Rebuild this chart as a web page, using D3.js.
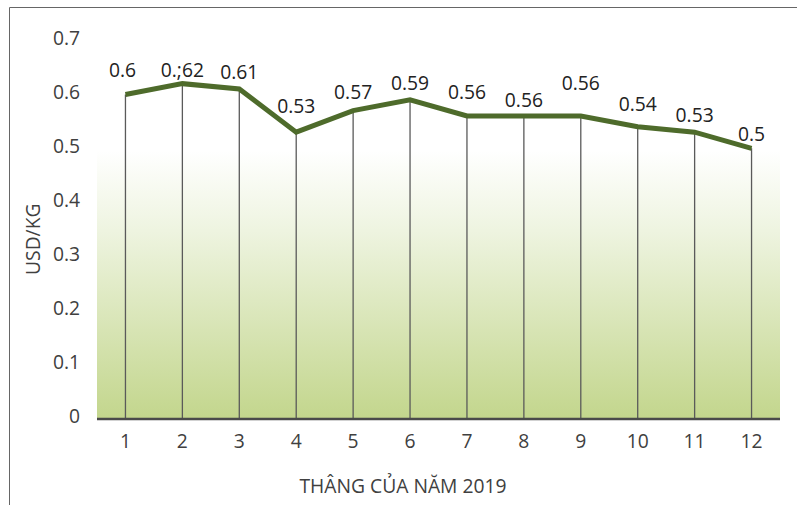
<!DOCTYPE html>
<html>
<head>
<meta charset="utf-8">
<script src="https://cdn.jsdelivr.net/npm/d3@7/dist/d3.min.js"></script>
<style>
  html, body { margin: 0; padding: 0; background: #fff; }
  svg { display: block; font-family: "Open Sans", sans-serif; }
</style>
</head>
<body>
<svg id="chart" width="797" height="505"></svg>
<script>
// ---- data ----
const months = ["1", "2", "3", "4", "5", "6", "7", "8", "9", "10", "11", "12"];
const prices = [0.60, 0.62, 0.61, 0.53, 0.57, 0.59, 0.56, 0.56, 0.56, 0.54, 0.53, 0.50];
const priceLabels = ["0.6", "0.;62", "0.61", "0.53", "0.57", "0.59", "0.56", "0.56", "0.56", "0.54", "0.53", "0.5"];
const yTicks = [0, 0.1, 0.2, 0.3, 0.4, 0.5, 0.6, 0.7];
const yTitle = "USD/KG";
const xTitle = "THÂNG CỦA NĂM 2019";

// ---- layout ----
const W = 797, H = 505;
const plot = { left: 97, right: 780, top: 40.5, bottom: 418 };
// vertical nudges of the data labels (label text centre above the point)
const labelLift = [24, 13, 17, 26, 18, 17, 24, 16, 33, 23, 17, 14];
const labelShift = [-3, 0, 0, 0, 0, 0, 0, 0, 0, 0, 0, 0];
const FS = 19.3;

const svg = d3.select("#chart");

const x = d3.scaleBand().domain(months).range([plot.left, plot.right]).padding(0);
const y = d3.scaleLinear().domain([0, 0.7]).range([plot.bottom, plot.top]);

// frame (outer chart border, partially visible)
svg.append("path")
  .attr("d", `M9.5,${H} L9.5,7.5 L${W},7.5`)
  .attr("fill", "none").attr("stroke", "#666").attr("stroke-width", 1);

// gradient background
const defs = svg.append("defs");
const grad = defs.append("linearGradient").attr("id", "bg")
  .attr("x1", 0).attr("y1", 0).attr("x2", 0).attr("y2", 1);
grad.append("stop").attr("offset", "0%").attr("stop-color", "#ffffff");
grad.append("stop").attr("offset", "30%").attr("stop-color", "#eef4e0");
grad.append("stop").attr("offset", "100%").attr("stop-color", "#c3d68d");

const gTop = y(0.5) + 2;
svg.append("rect")
  .attr("x", plot.left).attr("y", gTop)
  .attr("width", plot.right - plot.left).attr("height", plot.bottom - gTop)
  .attr("fill", "url(#bg)");

// y axis labels
const yAxis = d3.axisLeft(y).tickValues(yTicks).tickSize(0).tickPadding(0)
  .tickFormat(d => d === 0 ? "0" : d3.format(".1f")(d));
const gy = svg.append("g").attr("transform", `translate(80,-2)`).call(yAxis);
gy.select(".domain").remove();
gy.selectAll("text").attr("font-size", FS).attr("fill", "#404040")
  .attr("font-family", "'Open Sans', sans-serif");

// drop lines
const cx = d => x(d) + x.bandwidth() / 2;
svg.append("g").selectAll("line").data(months).join("line")
  .attr("x1", d => cx(d)).attr("x2", d => cx(d))
  .attr("y1", (d, i) => y(prices[i])).attr("y2", plot.bottom)
  .attr("stroke", "#5a5a5a").attr("stroke-width", 1.3);

// x axis
const xAxis = d3.axisBottom(x).tickSize(0).tickPadding(16);
const gx = svg.append("g").attr("transform", `translate(0,${plot.bottom})`).call(xAxis);
gx.select(".domain").remove();
gx.selectAll("text").attr("font-size", FS).attr("fill", "#404040")
  .attr("font-family", "'Open Sans', sans-serif");
svg.append("line")
  .attr("x1", plot.left).attr("x2", plot.right)
  .attr("y1", plot.bottom + 1).attr("y2", plot.bottom + 1)
  .attr("stroke", "#4a4a4a").attr("stroke-width", 2.5);

// line
const line = d3.line().x((d, i) => cx(months[i])).y(d => y(d));
svg.append("path").datum(prices)
  .attr("d", line)
  .attr("fill", "none").attr("stroke", "#4e6b2b").attr("stroke-width", 5)
  .attr("stroke-linejoin", "miter");

// data labels
svg.append("g").selectAll("text").data(priceLabels).join("text")
  .attr("x", (d, i) => cx(months[i]) + labelShift[i])
  .attr("y", (d, i) => y(prices[i]) - labelLift[i])
  .attr("dy", "0.35em")
  .attr("text-anchor", "middle")
  .attr("font-size", FS).attr("fill", "#222")
  .text(d => d);

// axis titles
svg.append("text")
  .attr("transform", `translate(33,${(plot.top + plot.bottom) / 2 + 10}) rotate(-90)`)
  .attr("text-anchor", "middle").attr("dy", "0.35em")
  .attr("font-size", FS).attr("fill", "#404040")
  .text(yTitle);

svg.append("text")
  .attr("x", 403).attr("y", 486).attr("dy", "0.35em")
  .attr("text-anchor", "middle")
  .attr("font-size", FS).attr("fill", "#404040")
  .text(xTitle);
</script>
</body>
</html>
